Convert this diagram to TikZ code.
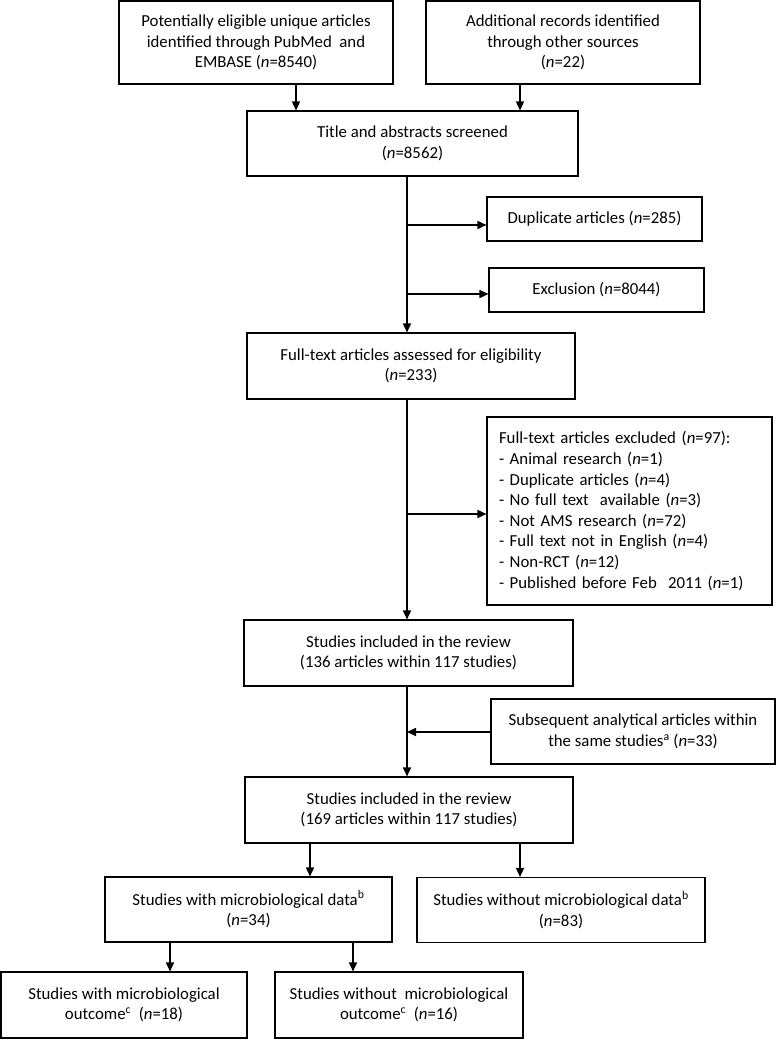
\documentclass[tikz,border=0pt]{standalone}
\usepackage{fontspec}
\setmainfont{Carlito}
\usetikzlibrary{arrows.meta}
\newcommand{\nn}{\textit{n}}
\begin{document}
\begin{tikzpicture}[x=1pt,y=-1pt,
  box/.style={draw=black,line width=1.1pt,inner sep=0pt,align=center,
    font=\fontsize{16.8}{20.6}\selectfont},
  arr/.style={line width=1.6pt,-{Triangle[length=9pt,width=8pt]}}]
\useasboundingbox (0,0) rectangle (777,1039);
% boxes
\node[box,minimum width=274pt,minimum height=83pt] (b1) at (256,42.5)
  {Potentially eligible unique articles\\identified through PubMed\ \ and\\EMBASE (\nn=8540)};
\node[box,minimum width=274pt,minimum height=83pt] (b2) at (563,42.5)
  {Additional records identified\\through other sources\\(\nn=22)};
\node[box,minimum width=331pt,minimum height=65pt] (b3) at (412.5,143.5)
  {Title and abstracts screened\\(\nn=8562)};
\node[box,minimum width=215pt,minimum height=44pt] (dup) at (594.5,219)
  {Duplicate articles (\nn=285)};
\node[box,minimum width=215pt,minimum height=44pt] (exc) at (596.5,290)
  {Exclusion (\nn=8044)};
\node[box,minimum width=328pt,minimum height=66pt] (b4) at (411,366)
  {Full-text articles assessed for eligibility\\(\nn=233)};
\node[box,align=left,text width=261pt,inner xsep=12pt,minimum height=188pt] (fx) at (629.5,511)
  {Full-text articles excluded (\nn=97):\\
   - Animal research (\nn=1)\\
   - Duplicate articles (\nn=4)\\
   - No full text\ \ available (\nn=3)\\
   - Not AMS research (\nn=72)\\
   - Full text not in English (\nn=4)\\
   - Non-RCT (\nn=12)\\
   - Published before Feb\ \ 2011 (\nn=1)};
\node[box,minimum width=329pt,minimum height=66pt] (b5) at (408.5,653)
  {Studies included in the review\\(136 articles within 117 studies)};
\node[box,minimum width=284pt,minimum height=65pt] (sub) at (633,731.5)
  {Subsequent analytical articles within\\the same studies\textsuperscript{a} (\nn=33)};
\node[box,minimum width=328pt,minimum height=66pt] (b6) at (409,810)
  {Studies included in the review\\(169 articles within 117 studies)};
\node[box,minimum width=287pt,minimum height=65pt] (b7) at (248.5,909.5)
  {Studies with microbiological data\textsuperscript{b}\\(\nn=34)};
\node[box,minimum width=288pt,minimum height=65pt] (b8) at (561,910)
  {Studies without microbiological data\textsuperscript{b}\\(\nn=83)};
\node[box,minimum width=246pt,minimum height=66pt] (b9) at (124,1005)
  {Studies with microbiological\\outcome\textsuperscript{c}\ \ (\nn=18)};
\node[box,minimum width=248pt,minimum height=66pt] (b10) at (399,1005)
  {Studies without\ \ microbiological\\outcome\textsuperscript{c}\ \ (\nn=16)};
% reference coordinates for connector positions
\coordinate (x1) at (296,0);
\coordinate (x2) at (520,0);
\coordinate (sp) at (407,0);
\coordinate (d1) at (407,225);
\coordinate (e1) at (407,294);
\coordinate (f1) at (407,514);
\coordinate (g1) at (407,732);
\coordinate (x6a) at (310,0);
\coordinate (x6b) at (520,0);
\coordinate (x7a) at (170,0);
\coordinate (x7b) at (353,0);
% connectors
\draw[arr] (b1.south -| x1) -- (b3.north -| x1);
\draw[arr] (b2.south -| x2) -- (b3.north -| x2);
\draw[arr] (b3.south -| sp) -- (b4.north -| sp);
\draw[arr] (d1) -- (d1 -| dup.west);
\draw[arr] (e1) -- (e1 -| exc.west);
\draw[arr] (b4.south -| sp) -- (b5.north -| sp);
\draw[arr] (f1) -- (f1 -| fx.west);
\draw[arr] (b5.south -| sp) -- (b6.north -| sp);
\draw[arr] (g1 -| sub.west) -- (g1);
\draw[arr] (b6.south -| x6a) -- (b7.north -| x6a);
\draw[arr] (b6.south -| x6b) -- (b8.north -| x6b);
\draw[arr] (b7.south -| x7a) -- (b9.north -| x7a);
\draw[arr] (b7.south -| x7b) -- (b10.north -| x7b);
\end{tikzpicture}
\end{document}
